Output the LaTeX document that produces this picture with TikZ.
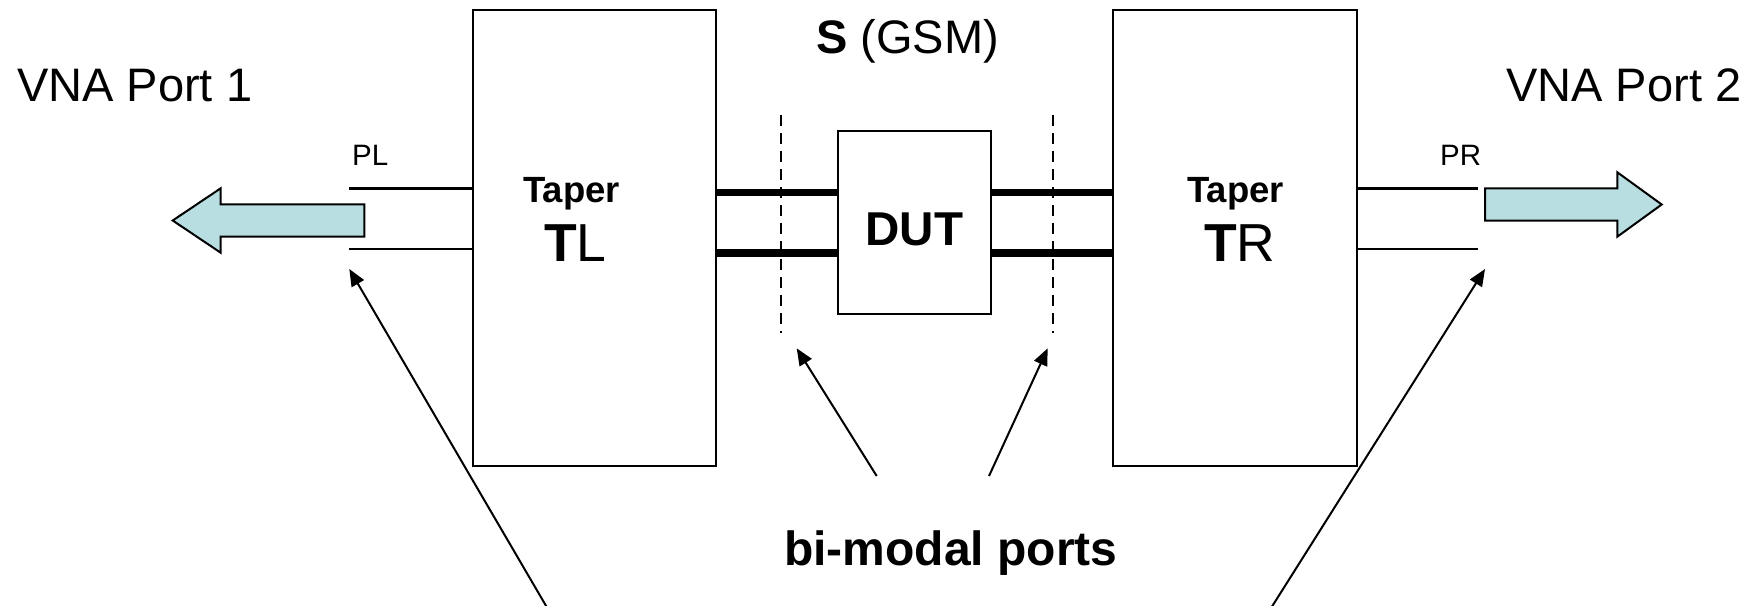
\documentclass[tikz,border=0pt]{standalone}
\usepackage{fontspec}
\setmainfont{Liberation Sans}
\usetikzlibrary{arrows.meta}
\definecolor{arrowfill}{RGB}{184,222,225}
\tikzset{
  blk/.style={draw, line width=2pt, rectangle, inner sep=0pt},
  bus/.style={line width=7.8pt},
  lead/.style={line width=2pt},
  dashsep/.style={line width=1.8pt, dash pattern=on 11pt off 7pt},
  ptr/.style={line width=2pt, -{Triangle[length=17pt,width=14pt]}},
  bigarrow/.style={draw, line width=2pt, fill=arrowfill, line join=miter},
  txt/.style={inner sep=0pt, anchor=base west},
}
\newcommand{\fsz}[1]{\fontsize{#1}{#1}\selectfont}
\begin{document}
\begin{tikzpicture}[x=1pt,y=-1pt]
\useasboundingbox (0,0) rectangle (1756,605);
% blocks
\node[blk, minimum width=243.3pt, minimum height=456pt] (TL) at (594.4,238) {};
\node[blk, minimum width=244pt, minimum height=456pt] (TR) at (1234.7,238) {};
\node[blk, minimum width=153pt, minimum height=183pt] (DUT) at (914.5,222.5) {};
% labels
\node[txt] (vna1) at (17,101) {\fsz{47}VNA Port 1};
\node[txt] (vna2) at (1506,101) {\fsz{47}VNA Port 2};
\node[txt] (gsm) at (816,53) {\fsz{47}\textbf{S} (GSM)};
\node[txt] (pl) at (352,165) {\fsz{29.5}PL};
\node[txt] (pr) at (1440,165) {\fsz{29.5}PR};
\node[txt] (tapL) at (523,202.7) {\fsz{36.5}\textbf{Taper}};
\node[txt] (tapR) at (1187,202.7) {\fsz{36.5}\textbf{Taper}};
\node[txt] (tl) at (544,261.7) {\fsz{53.5}\textbf{T}L};
\node[txt] (tr) at (1204,261.7) {\fsz{53.5}\textbf{T}R};
\node[inner sep=0pt, anchor=base] (dutlab) at (914.5,245) {\fsz{47.5}\textbf{DUT}};
\node[txt] (bim) at (784,565) {\fsz{48}\textbf{bi-modal ports}};
% coordinates
\coordinate (busTop) at (0,192.5);
\coordinate (busBot) at (0,252.8);
\coordinate (leadTop) at (0,188.3);
\coordinate (leadBot) at (0,249.3);
\coordinate (plEnd) at (349,0);
\coordinate (prEnd) at (1478.3,0);
% thick bus lines
\draw[bus] (TL.east |- busTop) -- (DUT.west |- busTop);
\draw[bus] (TL.east |- busBot) -- (DUT.west |- busBot);
\draw[bus] (DUT.east |- busTop) -- (TR.west |- busTop);
\draw[bus] (DUT.east |- busBot) -- (TR.west |- busBot);
% leads to VNA ports
\draw[lead, line width=2.6pt] (plEnd |- leadTop) -- (TL.west |- leadTop);
\draw[lead] (plEnd |- leadBot) -- (TL.west |- leadBot);
\draw[lead, line width=2.6pt] (TR.east |- leadTop) -- (prEnd |- leadTop);
\draw[lead] (TR.east |- leadBot) -- (prEnd |- leadBot);
% dashed reference planes
\coordinate (dL1) at (780.7,115);
\coordinate (dL2) at (780.7,333);
\coordinate (dR1) at (1053,115);
\coordinate (dR2) at (1053,333);
\draw[dashsep] (dL1) -- (dL2);
\draw[dashsep] (dR1) -- (dR2);
% big block arrows
\draw[bigarrow] (364.3,204.3) -- (220.7,204.3) -- (220.7,188.3) -- (172.7,220.5)
  -- (220.7,252.7) -- (220.7,236.7) -- (364.3,236.7) -- cycle;
\draw[bigarrow] (1485,188.3) -- (1617.3,188.3) -- (1617.3,172.3) -- (1661.7,204.5)
  -- (1617.3,236.7) -- (1617.3,220.7) -- (1485,220.7) -- cycle;
% pointer arrows
\coordinate (pA0) at (546.7,607);
\coordinate (pA1) at (349.3,269);
\coordinate (pB0) at (1271.7,607);
\coordinate (pB1) at (1485,269);
\coordinate (pC0) at (876.7,476);
\coordinate (pC1) at (796.7,348.3);
\coordinate (pD0) at (989,476);
\coordinate (pD1) at (1047.7,348.3);
\draw[ptr] (pA0) -- (pA1);
\draw[ptr] (pB0) -- (pB1);
\draw[ptr] (pC0) -- (pC1);
\draw[ptr] (pD0) -- (pD1);
\end{tikzpicture}
\end{document}
